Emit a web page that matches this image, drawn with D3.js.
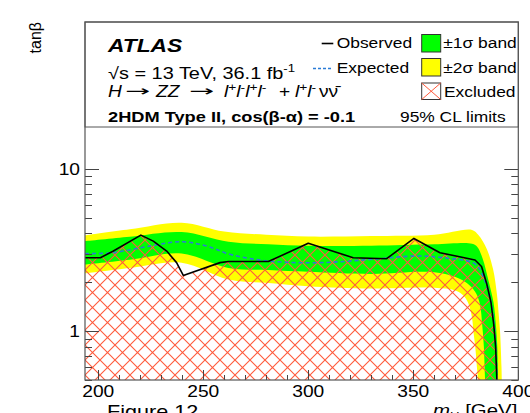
<!DOCTYPE html>
<html>
<head>
<meta charset="utf-8">
<script src="https://cdn.jsdelivr.net/npm/d3@7"></script>
<style>
  html, body { margin: 0; padding: 0; background: #fff; }
  svg { display: block; }
  text { font-family: "Liberation Sans", Arial, Helvetica, sans-serif; fill: #000; }
</style>
</head>
<body>
<svg id="chart" width="530" height="413"></svg>
<script>
// 95% CL limits on tan(beta) vs m_H, 2HDM Type II, cos(beta-alpha) = -0.1
// Each curve is a list of [mH (GeV), tanBeta] points.
const observed = [[193.7,2.83],[201,2.83],[207,3.10],[220.3,3.90],[226.2,3.58],[232.6,3.11],[237.3,2.64],[240.5,2.20],[258,2.64],[262,2.68],[281,2.68],[300,3.47],[321.4,2.83],[337.3,2.79],[350.3,3.72],[362.7,3.04],[379.4,2.74],[382.5,2.5],[385,1.95],[387,1.5],[388.3,1.1],[389.2,0.8],[389.8,0.5],[390,0.45]];
const expected = [[193.7,3.00],[207,3.04],[223,3.31],[239.7,3.55],[251.6,3.34],[262.7,2.97],[281,2.70],[305.6,2.64],[329.4,2.76],[351.6,2.90],[364.3,2.83],[378.3,2.64],[381.5,2.42],[384,2.05],[386,1.7],[387.4,1.4],[388.5,1.1],[389.3,0.8],[389.9,0.5],[390.1,0.45]];
const band1Upper = [[193.7,3.58],[215,3.81],[239.7,4.07],[262,3.55],[281,3.42],[300,3.35],[330,3.35],[360,3.42],[378,3.45],[380.5,3.3],[383,2.8],[386,2.0],[388.2,1.5],[389.3,1.1],[390,0.8],[390.4,0.5],[390.6,0.45]];
const band1Lower = [[193.7,2.57],[215,2.75],[239.7,3.0],[262,2.45],[281,2.38],[300,2.32],[330,2.25],[360,2.3],[372,2.1],[377,1.9],[380,1.7],[381.8,1.45],[382.8,1.1],[383.6,0.8],[384.2,0.5],[384.4,0.45]];
const band2Upper = [[193.7,3.88],[215,4.23],[239.7,4.65],[260,4.1],[280,3.92],[300,3.82],[330,3.85],[360,3.92],[378,4.2],[381,3.9],[385,3.2],[388,2.4],[389.8,1.7],[390.6,1.3],[391.3,1.0],[392,0.6],[392.2,0.45]];
const band2Lower = [[193.7,2.27],[215,2.45],[239.7,2.64],[262,2.08],[281,1.98],[300,1.89],[330,1.83],[360,1.85],[370,1.78],[374,1.65],[376.5,1.45],[378,1.2],[378.6,1.0],[379.5,0.8],[380.3,0.6],[380.8,0.5],[381,0.45]];

const xTickValues = [200, 250, 300, 350, 400];
const yTickLabels = [1, 10];

const svg = d3.select("#chart");
const frame = { left: 85, right: 518.3, top: 22, bottom: 380 };
const x = d3.scaleLinear().domain([193.7, 400]).range([frame.left, frame.right]);
const y = d3.scaleLog().domain([0.5, 80]).range([frame.bottom, frame.top]);

const TXT_SX = 1.2; // horizontal stretch of the text

const defs = svg.append("defs");
defs.append("clipPath").attr("id", "plotClip")
  .append("rect").attr("x", frame.left).attr("y", frame.top)
  .attr("width", frame.right - frame.left).attr("height", frame.bottom - frame.top);

const hatchColor = "#ff5a3c";
const pat = defs.append("pattern").attr("id", "hatch")
  .attr("patternUnits", "userSpaceOnUse").attr("width", 15).attr("height", 15)
  .attr("x", frame.left).attr("y", 0);
pat.append("path").attr("d", "M0,0L15,15M0,15L15,0M-1,14L1,16M14,-1L16,1")
  .attr("stroke", hatchColor).attr("stroke-width", 1.1).attr("fill", "none");

const smooth = d3.line().x(d => x(d[0])).y(d => y(d[1])).curve(d3.curveCatmullRom.alpha(0.5));
const straight = d3.line().x(d => x(d[0])).y(d => y(d[1]));

function bandPath(upper, lower) {
  const a = smooth(upper);
  const b = smooth(lower.slice().reverse()).replace(/^M/, "L");
  return a + b + "Z";
}

const plot = svg.append("g").attr("clip-path", "url(#plotClip)");

plot.append("path").attr("d", bandPath(band2Upper, band2Lower)).attr("fill", "#ffff00");
plot.append("path").attr("d", bandPath(band1Upper, band1Lower)).attr("fill", "#00ff00");

// excluded region: everything below the observed limit
const lastObs = observed[observed.length - 1];
const excl = observed.concat([[lastObs[0], 0.4], [observed[0][0] - 5, 0.4], [observed[0][0] - 5, observed[0][1]]]);
plot.append("path").attr("d", straight(excl) + "Z").attr("fill", "url(#hatch)");

plot.append("path").attr("d", smooth(expected)).attr("fill", "none")
  .attr("stroke", "#2a7bd6").attr("stroke-width", 1.6).attr("stroke-dasharray", "4,3");
plot.append("path").attr("d", straight(observed)).attr("fill", "none")
  .attr("stroke", "#000").attr("stroke-width", 1.6).attr("stroke-linejoin", "round");

// axes ticks (inward)
const axisG = svg.append("g").attr("stroke", "#444").attr("stroke-width", 1);
const yMinor = [];
[0.1, 1, 10].forEach(dec => { for (let k = 1; k <= 9; k++) { const v = dec * k; if (v >= 0.5 && v <= 80) yMinor.push(v); } });
yMinor.forEach(v => {
  const major = yTickLabels.includes(v);
  const len = major ? 14 : 7;
  const yy = Math.round(y(v)) + 0.5;
  axisG.append("line").attr("x1", frame.left).attr("x2", frame.left + len).attr("y1", yy).attr("y2", yy);
  axisG.append("line").attr("x1", frame.right).attr("x2", frame.right - len).attr("y1", yy).attr("y2", yy);
});
const xMinor = d3.range(200, 401, 10);
xMinor.forEach(v => {
  const major = xTickValues.includes(v);
  const len = major ? 10 : 5;
  const xx = Math.round(x(v)) + 0.5;
  axisG.append("line").attr("x1", xx).attr("x2", xx).attr("y1", frame.bottom).attr("y2", frame.bottom - len);
});

// legend panel across the top of the frame
svg.append("rect").attr("x", frame.left).attr("y", frame.top)
  .attr("width", frame.right - frame.left).attr("height", 105)
  .attr("fill", "#fff").attr("stroke", "#555").attr("stroke-width", 1);

// frame
svg.append("rect").attr("x", frame.left).attr("y", frame.top)
  .attr("width", frame.right - frame.left).attr("height", frame.bottom - frame.top)
  .attr("fill", "none").attr("stroke", "#555").attr("stroke-width", 1.2);

function label(px, py, size, anchor, sx) {
  return svg.append("text")
    .attr("transform", `translate(${px},${py}) scale(${sx || TXT_SX},1)`)
    .attr("font-size", size).attr("text-anchor", anchor || "start");
}

// tick labels
xTickValues.forEach(v => label(x(v), 397, 16, "middle").text(v));
yTickLabels.forEach(v => label(frame.left - 5, y(v) + 6, 16, "end").text(v));

// axis titles
svg.append("text").attr("transform", "translate(41,22) rotate(-90)")
  .attr("font-size", 16).attr("text-anchor", "end").text("tanβ");
const mt = label(433, 416, 17, "start");
mt.append("tspan").attr("font-style", "italic").text("m");
mt.append("tspan").attr("font-size", 11).attr("dy", 4).text("H");
mt.append("tspan").attr("dy", -4).text(" [GeV]");
label(107, 418, 18, "start").text("Figure 12");

// annotation block
label(108, 51.7, 19, "start").attr("font-weight", "bold").attr("font-style", "italic").text("ATLAS");
const s1 = label(108, 78.5, 16.6, "start");
s1.append("tspan").text("√s = 13 TeV, 36.1 fb");
s1.append("tspan").attr("font-size", 11).attr("dy", -7).text("-1");

// decay chain, laid out piece by piece
const chainY = 97;
function leptons(px, signs) {
  const t = label(px, chainY, 16, "start");
  signs.forEach((sg, i) => {
    t.append("tspan").attr("font-style", "italic").attr("dy", i === 0 ? 0 : 6).text("l");
    t.append("tspan").attr("font-size", 11.5).attr("dy", -6).text(sg);
  });
  return t;
}
function arrow(px, width) {
  return svg.append("text").attr("x", px).attr("y", chainY - 1)
    .style("font-family", "'DejaVu Sans', sans-serif")
    .attr("font-size", 15).attr("textLength", width)
    .attr("lengthAdjust", "spacingAndGlyphs").text("→");
}
label(108, chainY, 16).attr("font-style", "italic").text("H");
arrow(125, 25);
label(156, chainY, 16).attr("font-style", "italic").text("ZZ");
arrow(189, 25);
leptons(224, ["+", "-", "+", "-"]);
label(279, chainY, 16).text("+");
leptons(295, ["+", "-"]);
label(319, chainY, 16).text("νν̄");

label(108, 121.7, 15.2, "start").attr("font-weight", "bold").text("2HDM Type II, cos(β-α) = -0.1");

// legend entries
const leg = svg.append("g");
leg.append("line").attr("x1", 321.7).attr("x2", 333.3).attr("y1", 43.5).attr("y2", 43.5)
  .attr("stroke", "#000").attr("stroke-width", 1.6);
leg.append("line").attr("x1", 313).attr("x2", 333).attr("y1", 68.5).attr("y2", 68.5)
  .attr("stroke", "#2a7bd6").attr("stroke-width", 1.4).attr("stroke-dasharray", "3,2");
label(336.7, 48.3, 14.5).text("Observed");
label(336.7, 72.7, 14.5).text("Expected");
leg.append("rect").attr("x", 421.7).attr("y", 34.5).attr("width", 19).attr("height", 17.5)
  .attr("fill", "#00ff00").attr("stroke", "#333");
leg.append("rect").attr("x", 421.7).attr("y", 58.5).attr("width", 19).attr("height", 17.5)
  .attr("fill", "#ffff00").attr("stroke", "#333");
leg.append("rect").attr("x", 421.7).attr("y", 83).attr("width", 19).attr("height", 16.5)
  .attr("fill", "#fff").attr("stroke", "#333");
leg.append("path").attr("d", "M421.7,83L440.7,99.5M421.7,99.5L440.7,83")
  .attr("stroke", hatchColor).attr("stroke-width", 1);
label(443.3, 48.3, 14.5).text("±1σ band");
label(443.3, 72.7, 14.5).text("±2σ band");
label(444, 96.7, 14.5).text("Excluded");
label(400, 121.7, 14.5).text("95% CL limits");
</script>
</body>
</html>
